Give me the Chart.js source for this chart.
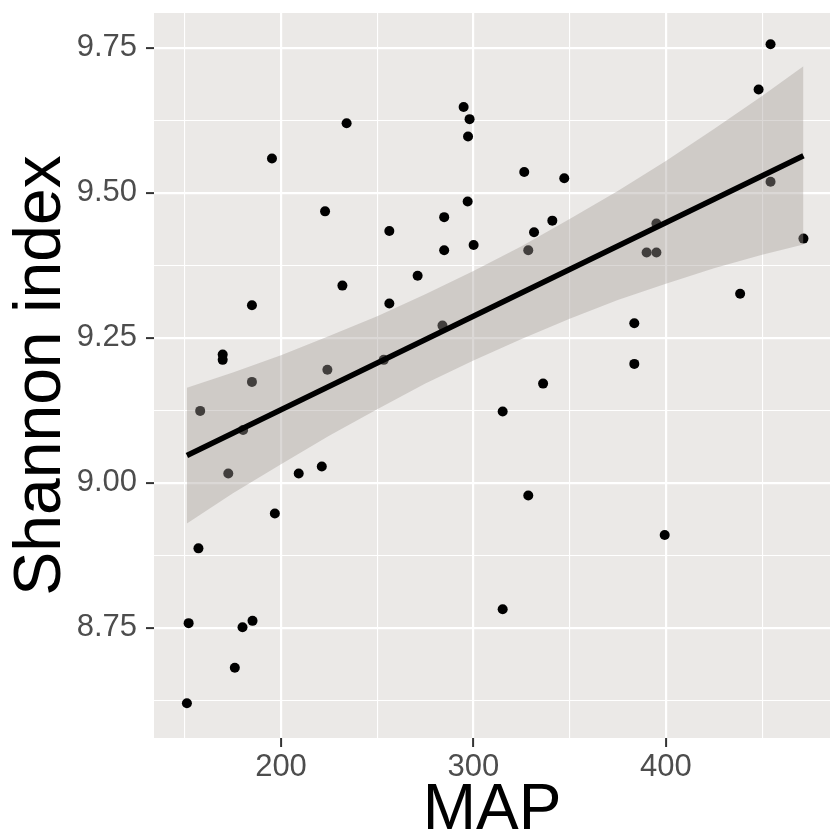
<!DOCTYPE html>
<html>
<head>
<meta charset="utf-8">
<script src="https://cdn.jsdelivr.net/npm/chart.js@4.4.1/dist/chart.umd.min.js"></script>
<style>
  html, body { margin: 0; padding: 0; background: #ffffff; }
  canvas { display: block; }
</style>
</head>
<body>
<canvas id="myChart" width="835" height="839"></canvas>
<script>
// MAP vs Shannon index
const mapValues = [
    151.1, 152.0, 157.1, 158.0, 169.7, 169.7, 172.6, 176.0, 180.0, 180.3,
    184.9, 184.9, 185.2, 195.3, 196.8, 209.2, 221.2, 222.9, 224.1, 231.9,
    234.1, 253.4, 256.3, 256.3, 271.0, 283.9, 284.8, 284.8, 294.9, 298.0,
    297.2, 297.0, 300.1, 315.2, 315.2, 326.4, 328.5, 328.5, 331.5, 336.2,
    341.0, 347.2, 383.6, 383.6, 390.0, 395.1, 395.1, 399.4, 438.6, 448.2,
    454.4, 454.4, 471.5
];
const shannonValues = [
    8.620, 8.758, 8.887, 9.124, 9.221, 9.212, 9.016, 8.681, 8.751, 9.091,
    9.306, 9.174, 8.762, 9.559, 8.947, 9.016, 9.028, 9.468, 9.195, 9.340,
    9.620, 9.212, 9.434, 9.309, 9.357, 9.271, 9.458, 9.401, 9.648, 9.627,
    9.597, 9.485, 9.410, 9.123, 8.782, 9.536, 9.401, 8.978, 9.432, 9.171,
    9.452, 9.525, 9.275, 9.205, 9.397, 9.397, 9.447, 8.910, 9.326, 9.678,
    9.756, 9.519, 9.421
];

// fitted line and its confidence band
const trendX = [151.1, 471.5];
const trendY = [9.047, 9.564];
const bandX = [151.1, 175, 200, 225, 250, 275, 300, 325, 350, 375, 400, 425, 450, 471.5];
const bandUpper = [9.164, 9.190, 9.220, 9.253, 9.287, 9.325, 9.365, 9.408, 9.455, 9.503, 9.555, 9.610, 9.667, 9.718];
const bandLower = [8.930, 8.982, 9.032, 9.081, 9.127, 9.171, 9.211, 9.248, 9.283, 9.315, 9.343, 9.370, 9.393, 9.411];

const xTicks = [150, 200, 250, 300, 350, 400, 450];
const yTicks = [8.625, 8.75, 8.875, 9.0, 9.125, 9.25, 9.375, 9.5, 9.625, 9.75];

const toPoints = (xs, ys) => xs.map((x, i) => ({ x: x, y: ys[i] }));
const isMajorX = v => Math.abs(v % 100) < 1e-6;
const isMajorY = v => Math.abs(v * 4 - Math.round(v * 4)) < 1e-6;

const noPadding = s => {
    s.paddingTop = 0;
    s.paddingBottom = 0;
    s.paddingLeft = 0;
    s.paddingRight = 0;
};

const panelBg = {
    id: 'panelBg',
    beforeDraw(chart) {
        const { ctx, chartArea: a } = chart;
        ctx.save();
        ctx.fillStyle = '#ebe9e7';
        ctx.fillRect(a.left, a.top, a.right - a.left, a.bottom - a.top);
        ctx.restore();
    }
};

const tickFont = { family: "'Liberation Sans', Arial, sans-serif", size: 31 };

const ctx = document.getElementById('myChart').getContext('2d');
new Chart(ctx, {
    type: 'scatter',
    data: {
        datasets: [
            {
                type: 'line',
                data: toPoints(trendX, trendY),
                borderColor: '#000000',
                borderWidth: 5.5,
                pointRadius: 0,
                fill: false
            },
            {
                type: 'line',
                data: toPoints(bandX, bandUpper),
                borderWidth: 0,
                borderColor: 'rgba(0,0,0,0)',
                pointRadius: 0,
                tension: 0,
                fill: '+1',
                backgroundColor: 'rgba(165,158,153,0.4)'
            },
            {
                type: 'line',
                data: toPoints(bandX, bandLower),
                borderWidth: 0,
                borderColor: 'rgba(0,0,0,0)',
                pointRadius: 0,
                tension: 0,
                fill: false
            },
            {
                data: toPoints(mapValues, shannonValues),
                backgroundColor: '#000000',
                borderWidth: 0,
                pointRadius: 5
            }
        ]
    },
    options: {
        responsive: false,
        animation: false,
        layout: { padding: { top: 13, right: 0, left: 0, bottom: 0 } },
        plugins: { legend: { display: false }, tooltip: { enabled: false } },
        scales: {
            x: {
                type: 'linear',
                min: 134.0,
                max: 485.3,
                afterBuildTicks: s => { s.ticks = xTicks.map(v => ({ value: v })); },
                afterFit: s => { s.height = 101; noPadding(s); },
                border: { display: false },
                grid: {
                    color: '#ffffff',
                    lineWidth: c => isMajorX(c.tick.value) ? 2.2 : 1.1,
                    tickColor: c => isMajorX(c.tick.value) ? '#333333' : 'rgba(0,0,0,0)',
                    tickWidth: 2,
                    tickLength: 9
                },
                ticks: {
                    autoSkip: false,
                    maxRotation: 0,
                    padding: 2,
                    color: '#4d4d4d',
                    font: tickFont,
                    callback: v => isMajorX(v) ? String(v) : ''
                },
                title: {
                    display: true,
                    text: 'MAP',
                    color: '#000000',
                    font: { family: "'Liberation Sans', Arial, sans-serif", size: 64, lineHeight: 0.85 },
                    padding: 0
                }
            },
            y: {
                type: 'linear',
                min: 8.560,
                max: 9.810,
                afterBuildTicks: s => { s.ticks = yTicks.map(v => ({ value: v })); },
                afterFit: s => { s.width = 154; noPadding(s); },
                border: { display: false },
                grid: {
                    color: '#ffffff',
                    lineWidth: c => isMajorY(c.tick.value) ? 2.2 : 1.1,
                    tickColor: c => isMajorY(c.tick.value) ? '#333333' : 'rgba(0,0,0,0)',
                    tickWidth: 2,
                    tickLength: 8
                },
                ticks: {
                    autoSkip: false,
                    padding: 9,
                    color: '#4d4d4d',
                    font: tickFont,
                    callback: v => isMajorY(v) ? v.toFixed(2) : ''
                },
                title: {
                    display: true,
                    text: 'Shannon index',
                    color: '#000000',
                    font: { family: "'Liberation Sans', Arial, sans-serif", size: 66, lineHeight: 1.2 },
                    padding: { top: 2, bottom: 0 }
                }
            }
        }
    },
    plugins: [panelBg]
});
</script>
</body>
</html>
